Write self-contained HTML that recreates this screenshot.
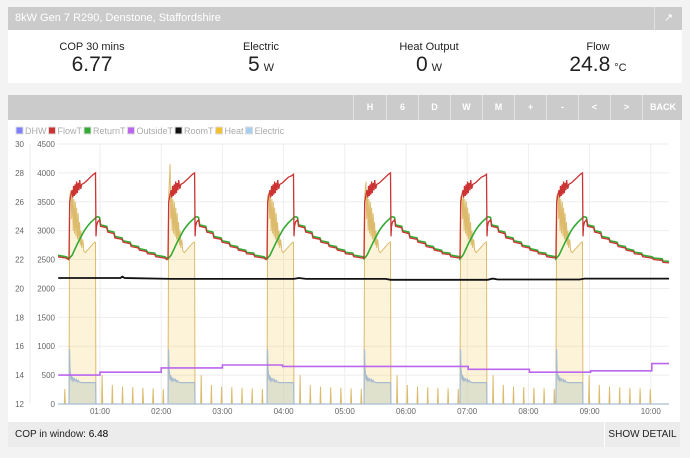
<!DOCTYPE html>
<html><head><meta charset="utf-8">
<style>
body{margin:0;width:690px;height:458px;background:#f3f3f3;font-family:"Liberation Sans",sans-serif;position:relative;overflow:hidden}
.abs{position:absolute}
#hdr{left:8px;top:7px;width:674px;height:23px;background:#cbcbcb;color:#fff;font-size:11px;line-height:23px}
#stats{left:8px;top:30px;width:674px;height:53px;background:#fff}
.stat{position:absolute;top:0;width:168px;text-align:center;color:#222}
.stat .l{font-size:11px;margin-top:11px}
.stat .v{font-size:21px;margin-top:0px}
.stat .v span{font-size:11px;margin-left:4px}
#tb{left:8px;top:95px;width:674px;height:25px;background:#cbcbcb}
.btn{position:absolute;top:0;height:25px;line-height:25px;color:#fff;font-size:9px;font-weight:bold;text-align:center;border-left:1px solid #e2e2e2}
#chartbox{left:8px;top:120px;width:672px;height:302px;background:#fff}
#foot{left:8px;top:422px;width:672px;height:25px;background:#ececec;font-size:10px;line-height:25px;color:#222}
</style></head><body>
<div id="hdr" class="abs"><span style="margin-left:7px">8kW Gen 7 R290, Denstone, Staffordshire</span>
<div class="abs" style="right:0;top:0;width:27px;height:23px;border-left:1px solid #e0e0e0;text-align:center;font-size:11px">&#8599;</div></div>
<div id="stats" class="abs">
<div class="stat" style="left:0"><div class="l">COP 30 mins</div><div class="v">6.77</div></div>
<div class="stat" style="left:169px"><div class="l">Electric</div><div class="v">5<span>W</span></div></div>
<div class="stat" style="left:337px"><div class="l">Heat Output</div><div class="v">0<span>W</span></div></div>
<div class="stat" style="left:506px"><div class="l">Flow</div><div class="v">24.8<span>°C</span></div></div>
</div>
<div id="tb" class="abs">
<div class="btn" style="left:345px;width:32px">H</div>
<div class="btn" style="left:378px;width:31px">6</div>
<div class="btn" style="left:410px;width:31px">D</div>
<div class="btn" style="left:442px;width:31px">W</div>
<div class="btn" style="left:474px;width:31px">M</div>
<div class="btn" style="left:506px;width:31px">+</div>
<div class="btn" style="left:538px;width:31px">-</div>
<div class="btn" style="left:570px;width:31px">&lt;</div>
<div class="btn" style="left:602px;width:31px">&gt;</div>
<div class="btn" style="left:634px;width:40px">BACK</div>
</div>
<div id="chartbox" class="abs"></div>
<svg class="abs" style="left:0;top:0" width="690" height="458" id="chart">
<defs><clipPath id="pc"><rect x="58" y="140" width="611" height="266"/></clipPath></defs>
<g id="grid"></g><g id="axes" font-size="8" fill="#666"></g><g id="legend" font-size="9"></g>
<g id="series" clip-path="url(#pc)"></g>
</svg>
<div id="foot" class="abs"><span style="margin-left:7px">COP in window: <b style="font-weight:normal;color:#000">6.48</b></span>
<div class="abs" style="right:0;top:0;width:75px;border-left:1px solid #fff;text-align:center">SHOW DETAIL</div></div>
<script>
// data
const tempTicks=[12,14,16,18,20,22,24,26,28,30];
const heatTicks=[0,500,1000,1500,2000,2500,3000,3500,4000,4500];
const hourLabels=["01:00","02:00","03:00","04:00","05:00","06:00","07:00","08:00","09:00","10:00"];
const cycleStarts=[-67,29.6,126.7,223.7,318.8,412.9,507];
const cycleHeatPeak=[3700,3700,4150,3650,3850,3550,3650];
const cycleFlowPeak=[28.0,28.0,28.0,27.9,28.0,27.9,28.0];
const returnProfile=[[0,22.05],[3,22.3],[6,22.75],[9,23.2],[12,23.6],[15,24.0],[18,24.3],[21,24.55],[24,24.75],[27,24.95],[29,24.95],[30,24.9],[31,24.4],[37,24.3],[38,24.0],[44,23.9],[45,23.6],[52,23.5],[53,23.3],[60,23.2],[61,23.0],[68,22.9],[69,22.75],[76,22.65],[77,22.5],[84,22.45],[85,22.3],[94,22.2],[96,22.1],[104,22.05],[105,21.9],[115,21.85]];
const flowProfile=[[0,22.1],[0.7,26.0],[2,26.5],[3,26.8],[3.7,26.3],[4.5,27.1],[5.2,26.4],[6,27.2],[6.7,26.5],[7.5,27.4],[8.2,26.6],[9,27.3],[9.8,26.8],[10.5,27.5],[11.5,26.9],[12.5,27.2],[15,27.3],[18,27.5],[21,27.7],[24,27.9],[26,28.0],[26.5,23.6],[27,24.3],[28,24.6],[30,24.75],[31,24.3],[37,24.2],[38,23.9],[44,23.8],[45,23.5],[52,23.4],[53,23.2],[60,23.1],[61,22.9],[68,22.8],[69,22.65],[76,22.55],[77,22.4],[84,22.35],[85,22.2],[94,22.1],[96,22.0],[104,21.95],[105,21.8],[115,21.75]];
const heatProfile=[[0,0],[0.7,3600],[2,3700],[2.7,3200],[3.4,3650],[4.1,3000],[4.8,3550],[5.5,2950],[6.2,3500],[6.9,2900],[7.6,3400],[8.3,2850],[9,3300],[9.7,2800],[10.4,3150],[11.1,2750],[11.8,3000],[12.5,2700],[13.5,2850],[14.5,2650],[16,2620],[20,2700],[25,2800],[26,2800],[26.4,0]];
const elecProfile=[[0,0],[0.5,950],[1,600],[1.5,520],[2,420],[2.5,500],[3,400],[3.5,470],[4,400],[5,440],[6,400],[7,430],[8,380],[9,410],[10,380],[12,370],[20,370],[26,370],[26.5,0]];
const spikeOffsets=[6,16,26,36,46,56,66];
const spikeHeights=[500,330,300,290,280,270,260];
const roomTimes=[19,80,82,84,130,140,250,255,262,340,345,440,445,450,530,535,618];
const roomVals=[20.72,20.72,20.82,20.72,20.66,20.66,20.66,20.72,20.66,20.66,20.6,20.6,20.68,20.62,20.62,20.68,20.68];
const outsideTimes=[19,60,120,180,239,421,481,541,601,618];
const outsideVals=[14.0,14.2,14.5,14.7,14.6,14.4,14.2,14.3,14.8,14.8];
const legendNames=["DHW","FlowT","ReturnT","OutsideT","RoomT","Heat","Electric"];
const legendColors=["#8080ff","#cc3333","#33aa33","#bb66ee","#111111","#f0c030","#a8cff0"];

const X=m=>100+(m-60)*61.2/60;
const YT=t=>404-(t-12)*260/18;
const YH=h=>404-h*260/4500;
const NS="http://www.w3.org/2000/svg";
function mk(tag,attrs,parent){const e=document.createElementNS(NS,tag);for(const k in attrs)e.setAttribute(k,attrs[k]);parent.appendChild(e);return e;}
const grid=document.getElementById('grid'),axes=document.getElementById('axes'),leg=document.getElementById('legend'),ser=document.getElementById('series');
tempTicks.forEach((t,i)=>{const y=YT(t);
 const g=mk('line',{x1:58,x2:669,y1:y,y2:y,stroke:'#eeeeee'},grid);
 
 const a=mk('text',{x:24,y:y+3,'text-anchor':'end'},axes);a.textContent=t;
 
 const b=mk('text',{x:55,y:y+3,'text-anchor':'end'},axes);b.textContent=heatTicks[i];
 });
const l0=mk('line',{x1:30,x2:30,y1:144,y2:404,stroke:'#eeeeee'},grid);

hourLabels.forEach((h,i)=>{const x=X(60*(i+1));
 const g=mk('line',{x1:x,x2:x,y1:144,y2:404,stroke:'#eeeeee'},grid);
 
 const t=mk('text',{x:x,y:414,'text-anchor':'middle'},axes);t.textContent=h;
 });
let lx=16;
legendNames.forEach((n,i)=>{
 const r=mk('rect',{x:lx,y:127,width:7,height:7,fill:legendColors[i],stroke:'#ddd'},leg);
 
 const t=mk('text',{x:lx+9,y:134,fill:'#aaa'},leg);t.textContent=n;
 
 lx+=9+t.getComputedTextLength()+2;});
// build series
let heatPts=[],elecPts=[],flowPts=[],retPts=[];
cycleStarts.forEach((s,i)=>{
 const next=i+1<cycleStarts.length?cycleStarts[i+1]:1000;
 heatProfile.forEach(([t,v],k)=>{heatPts.push([s+t,k==2?cycleHeatPeak[i]:v]);});
 spikeOffsets.forEach((o,k)=>{const m=s+26.5+o;if(m<next-1){heatPts.push([m-0.5,0],[m,spikeHeights[k]],[m+0.5,0]);}});
 elecProfile.forEach(([t,v])=>elecPts.push([s+t,v]));
 flowProfile.forEach(([t,v])=>{if(s+t<next)flowPts.push([s+t,t>=24&&t<=26?v-28+cycleFlowPeak[i]:v]);});
 returnProfile.forEach(([t,v])=>{if(s+t<next)retPts.push([s+t,v]);});
});
const pstr=(pts,yf)=>pts.map(p=>X(p[0]).toFixed(1)+','+yf(p[1]).toFixed(1)).join(' ');
let e;
e=mk('polygon',{points:X(-70)+','+YH(0)+' '+pstr(heatPts,YH)+' '+X(700)+','+YH(0),fill:'rgba(240,200,80,0.22)',stroke:'#dcbc6c','stroke-width':1},ser);

e=mk('polygon',{points:X(-70)+','+YH(0)+' '+pstr(elecPts,YH)+' '+X(700)+','+YH(0),fill:'rgba(190,205,190,0.45)',stroke:'#a8bcd0','stroke-width':1.2},ser);

let op=[];outsideTimes.forEach((t,i)=>{if(i>0)op.push([t,outsideVals[i-1]]);op.push([t,outsideVals[i]]);});
e=mk('polyline',{points:pstr(op,YT),fill:'none',stroke:'#bb66ee','stroke-width':1.6},ser);

e=mk('polyline',{points:pstr(roomTimes.map((t,i)=>[t,roomVals[i]]),YT),fill:'none',stroke:'#111','stroke-width':1.8},ser);

e=mk('polyline',{points:pstr(retPts,YT),fill:'none',stroke:'#33aa33','stroke-width':1.6},ser);

e=mk('polyline',{points:pstr(flowPts,YT),fill:'none',stroke:'#cc3333','stroke-width':1.3},ser);

</script>
</body></html>
